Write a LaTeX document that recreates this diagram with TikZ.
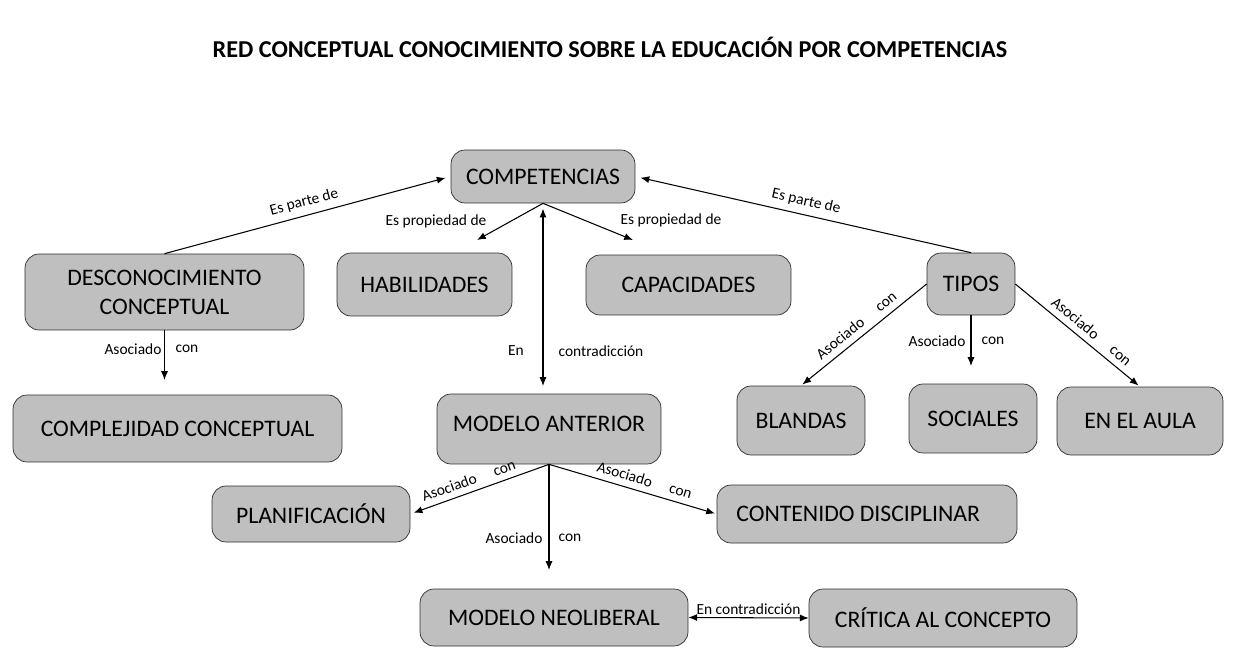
\documentclass[tikz,border=0pt]{standalone}
\usepackage{fontspec}
\setmainfont{Carlito}
\usetikzlibrary{arrows.meta, positioning}
\definecolor{gris}{RGB}{191,191,191}
\definecolor{borde}{RGB}{45,45,45}

\tikzset{
  concepto/.style={draw=borde, fill=gris, rounded corners=8pt, align=center,
    font=\fontsize{13.5}{16.5}\selectfont, inner sep=2pt},
  enlace/.style={-{Latex[length=5pt,width=4pt]}, line width=0.6pt},
  doble/.style={{Latex[length=5pt,width=4pt]}-{Latex[length=5pt,width=4pt]}, line width=0.6pt},
  etiqueta/.style={font=\fontsize{8.8}{10}\selectfont, inner sep=1.5pt},
  inclinada/.style={etiqueta, sloped, above=2pt},
}

\begin{document}
\begin{tikzpicture}[x=0.02cm, y=-0.02cm]
    \useasboundingbox (0,0) rectangle (1235,663);

    % Titulo
    \node[font=\bfseries\fontsize{13.8}{16}\selectfont] (titulo) at (610,47)
      {RED CONCEPTUAL CONOCIMIENTO SOBRE LA EDUCACIÓN POR COMPETENCIAS};

    % Conceptos
    \node[concepto, minimum width=3.68cm, minimum height=1.06cm] (comp) at (543,176.5) {COMPETENCIAS};
    \node[concepto, minimum width=5.58cm, minimum height=1.52cm] (desc) at (164.5,292) {DESCONOCIMIENTO\\CONCEPTUAL};
    \node[concepto, minimum width=3.50cm, minimum height=1.26cm] (hab) at (424.5,284.5) {HABILIDADES};
    \node[concepto, minimum width=4.10cm, minimum height=1.20cm] (cap) at (688.5,285) {CAPACIDADES};
    \node[concepto, minimum width=1.76cm, minimum height=1.24cm] (tipos) at (971,284) {TIPOS};
    \node[concepto, minimum width=6.58cm, minimum height=1.34cm] (compl) at (177.5,428.5) {COMPLEJIDAD CONCEPTUAL};
    \node[concepto, minimum width=4.48cm, minimum height=1.40cm] (mant) at (549,429) {\raisebox{6pt}{MODELO ANTERIOR}};
    \node[concepto, minimum width=2.56cm, minimum height=1.38cm] (bland) at (801,420.5) {BLANDAS};
    \node[concepto, minimum width=2.56cm, minimum height=1.38cm] (soc) at (973,418.5) {SOCIALES};
    \node[concepto, minimum width=3.32cm, minimum height=1.36cm] (aula) at (1140,421) {EN EL AULA};
    \node[concepto, minimum width=3.96cm, minimum height=1.12cm] (plan) at (311,514) {PLANIFICACIÓN};
    \node[concepto, minimum width=6.00cm, minimum height=1.16cm] (cont) at (867,514) {CONTENIDO DISCIPLINAR\hspace{10pt}};
    \node[concepto, minimum width=5.36cm, minimum height=1.14cm] (neo) at (554,617.5) {MODELO NEOLIBERAL};
    \node[concepto, minimum width=5.36cm, minimum height=1.16cm] (crit) at (943,618) {CRÍTICA AL CONCEPTO};

    % Extremos libres
    \coordinate (hab-in) at (477,240);
    \coordinate (cap-in) at (633,240);
    \coordinate (contra) at (543,386);
    \coordinate (desc-out) at (164.5,380);
    \coordinate (tipos-out) at (971,366);
    \coordinate (mant-out) at (549,570);

    % Enlaces
    \draw[enlace, shorten >=3pt] (desc.north) -- node[inclinada, pos=0.5] {Es parte de} (comp.west);
    \draw[enlace, shorten >=3pt] (tipos.north) -- node[inclinada, pos=0.5] {Es parte de} (comp.east);
    \draw[enlace] (comp.south) -- (hab-in);
    \draw[enlace] (comp.south) -- (cap-in);
    \node[etiqueta] (l-hab) at (436,221) {Es propiedad de};
    \node[etiqueta] (l-cap) at (671,220) {Es propiedad de};
    \draw[doble, shorten <=3pt] (comp.south) -- (contra);
    \node[etiqueta] (l-en) at (516,351) {En};
    \node[etiqueta] (l-contra) at (601,351) {contradicción};

    \draw[enlace] (desc.south) -- (desc-out);
    \node[etiqueta] (l-d1) at (133,349) {Asociado};
    \node[etiqueta] (l-d2) at (187,349) {con};

    \draw[enlace] (tipos.south) -- (tipos-out);
    \node[etiqueta] (l-t1) at (937,341) {Asociado};
    \node[etiqueta] (l-t2) at (993,341) {con};
    \draw[enlace, shorten >=1pt] (tipos.west) -- node[inclinada, pos=0.5] {Asociado\hspace{1.2em}con} (bland.north);
    \draw[enlace, shorten >=1pt] (tipos.east) -- node[inclinada, pos=0.55] {Asociado\hspace{1.2em}con} (aula.north);

    \draw[enlace, shorten >=2pt] (mant.south) -- node[inclinada, pos=0.55] {Asociado\hspace{1.2em}con} (plan.east);
    \draw[enlace, shorten >=1pt] (mant.south) -- node[inclinada, pos=0.55] {Asociado\hspace{1.2em}con} (cont.west);
    \draw[enlace] (mant.south) -- (mant-out);
    \node[etiqueta] (l-m1) at (514,538) {Asociado};
    \node[etiqueta] (l-m2) at (570,538) {con};

    \draw[doble] (neo.east) -- node[etiqueta, above] {En contradicción} (crit.west);
\end{tikzpicture}
\end{document}
